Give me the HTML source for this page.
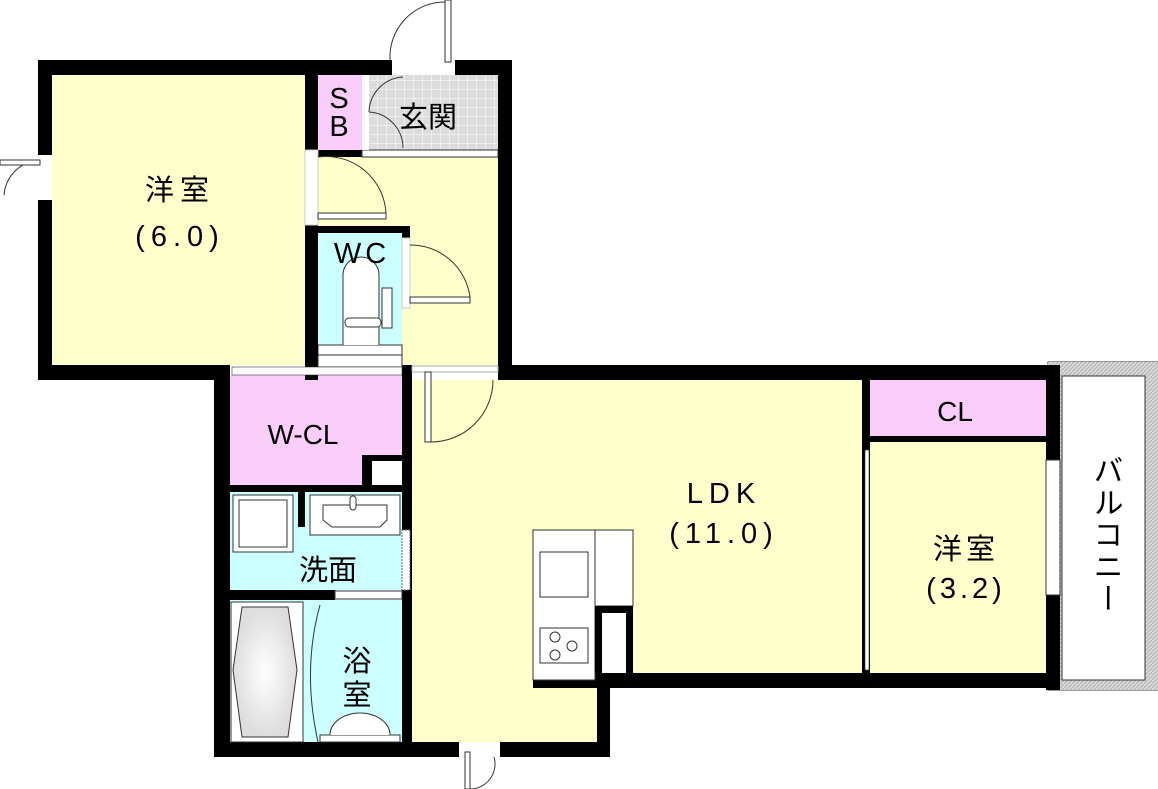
<!DOCTYPE html>
<html><head><meta charset="utf-8"><style>
html,body{margin:0;padding:0;background:#fff;}
svg{display:block}
text{font-family:"Liberation Sans","Noto Sans CJK JP",sans-serif;fill:#000}
</style></head><body>
<svg width="1158" height="789" viewBox="0 0 1158 789" xmlns="http://www.w3.org/2000/svg">
<defs>
<pattern id="grid" width="9" height="9" patternUnits="userSpaceOnUse"><rect width="9" height="9" fill="#dcdcdc"/><path d="M9 0V9M0 9H9" stroke="#fff" stroke-width="1"/></pattern>
<pattern id="hatch" width="4" height="4" patternUnits="userSpaceOnUse"><rect width="4" height="4" fill="#d8d8d8"/><path d="M0 4L4 0" stroke="#aaa" stroke-width="0.8"/></pattern>
<radialGradient id="tub"><stop offset="0" stop-color="#fff"/><stop offset="1" stop-color="#ddd"/></radialGradient>
</defs>
<rect x="1048" y="362" width="110" height="328" fill="#fff" stroke="#333"/>
<rect x="1048" y="362" width="110" height="328" fill="url(#hatch)"/>
<rect x="1062" y="376" width="83" height="304" fill="#fff" stroke="#333"/>
<rect x="52" y="75" width="253" height="290" fill="#ffffcc"/>
<rect x="318" y="150" width="180" height="230" fill="#ffffcc"/>
<rect x="318" y="75" width="44" height="75" fill="#fbcdfb"/>
<rect x="362" y="75" width="136" height="75" fill="url(#grid)"/>
<rect x="318" y="233" width="84" height="112" fill="#ccffff"/>
<rect x="318" y="345" width="84" height="22" fill="#fff" stroke="#333"/>
<rect x="230" y="375" width="172" height="110" fill="#fbcdfb"/>
<rect x="230" y="492" width="172" height="98" fill="#ccffff"/>
<rect x="230" y="600" width="172" height="142" fill="#ccffff"/>
<rect x="412" y="380" width="450" height="293" fill="#ffffcc"/>
<rect x="412" y="673" width="185" height="69" fill="#ffffcc"/>
<rect x="870" y="440" width="176" height="233" fill="#ffffcc"/>
<rect x="870" y="380" width="176" height="60" fill="#fbcdfb"/>
<g fill="#000">
<rect x="38" y="60" width="354" height="15"/>
<rect x="455" y="60" width="57" height="15"/>
<rect x="38" y="60" width="14" height="320"/>
<rect x="498" y="60" width="14" height="320"/>
<rect x="38" y="365" width="192" height="15"/>
<rect x="305" y="75" width="13" height="75"/>
<rect x="305" y="225" width="13" height="155"/>
<rect x="318" y="150" width="44" height="7"/>
<rect x="214" y="365" width="16" height="392"/>
<rect x="214" y="742" width="245" height="15"/>
<rect x="500" y="742" width="110" height="15"/>
<rect x="597" y="673" width="13" height="84"/>
<rect x="498" y="365" width="562" height="15"/>
<rect x="1046" y="365" width="14" height="325"/>
<rect x="533" y="673" width="527" height="15"/>
<rect x="402" y="365" width="10" height="377"/>
<rect x="318" y="226" width="92" height="7"/>
<rect x="402" y="226" width="8" height="12"/>
<rect x="230" y="485" width="172" height="7"/>
<rect x="230" y="590" width="105" height="10"/>
<rect x="362" y="455" width="10" height="30"/>
<rect x="362" y="455" width="40" height="6"/>
<rect x="298" y="492" width="7" height="35"/>
<rect x="862" y="380" width="8" height="293"/>
<rect x="870" y="436" width="176" height="6"/>
</g>
<rect x="318" y="355" width="84" height="12" fill="#fff" stroke="#333"/>
<rect x="232" y="367" width="170" height="8" fill="#fff" stroke="#333" stroke-width="0.6"/>
<rect x="335" y="591" width="67" height="8" fill="#fff" stroke="#333"/>
<rect x="372" y="461" width="30" height="24" fill="#fff"/>
<rect x="865" y="450" width="4" height="220" fill="#fff" stroke="#333" stroke-width="0.6"/>
<rect x="362" y="150" width="136" height="7" fill="#fff" stroke="#333"/>
<rect x="362" y="75" width="7" height="75" fill="#fff"/>
<rect x="392" y="60" width="63" height="15" fill="#fff"/>
<rect x="445" y="0" width="6" height="62" fill="#fff" stroke="#333"/>
<path d="M445 2 A55 55 0 0 0 390 60" fill="none" stroke="#333"/>
<path d="M369 112 A36 36 0 0 1 403 77 M369 112 A36 36 0 0 1 403 148" fill="none" stroke="#333"/>
<rect x="38" y="155" width="14" height="45" fill="#fff"/>
<path d="M40 160 A38 38 0 0 0 4 195" fill="none" stroke="#333"/>
<rect x="0" y="160" width="40" height="5" fill="#fff" stroke="#333"/>
<rect x="305" y="150" width="13" height="75" fill="#fff" stroke="#ccc"/>
<rect x="318" y="213" width="68" height="6" fill="#fff" stroke="#333"/>
<path d="M318 157 A60 60 0 0 1 386 213" fill="none" stroke="#333"/>
<rect x="402" y="238" width="8" height="70" fill="#fff" stroke="#ccc"/>
<rect x="410" y="297" width="60" height="6" fill="#fff" stroke="#333"/>
<path d="M410 245 A60 60 0 0 1 470 297" fill="none" stroke="#333"/>
<path d="M343 345 V275 A18 18 0 0 1 379 275 V345" fill="#fff" stroke="#333"/>
<rect x="382" y="288" width="10" height="40" fill="#fff" stroke="#333"/>
<rect x="345" y="318" width="36" height="9" rx="4" fill="#fff" stroke="#333"/>
<rect x="412" y="365" width="86" height="15" fill="#fff"/>
<rect x="412" y="366" width="86" height="6" fill="#fff" stroke="#aaa"/>
<rect x="425" y="372" width="6" height="70" fill="#fff" stroke="#333"/>
<path d="M431 442 A62 62 0 0 0 493 380" fill="none" stroke="#333"/>
<rect x="402" y="530" width="8" height="60" fill="#fff" stroke="#666" stroke-dasharray="2 1"/>
<rect x="233" y="495" width="60" height="57" fill="#fff" stroke="#333"/>
<rect x="239" y="500" width="48" height="47" fill="#fff" stroke="#333"/>
<rect x="310" y="495" width="90" height="40" fill="#fff" stroke="#333"/>
<path d="M323 505 H387 V520 L380 527 H332 L323 520 Z" fill="#fff" stroke="#333"/>
<rect x="350" y="496" width="6" height="14" rx="3" fill="#fff" stroke="#333"/>
<rect x="231" y="602" width="72" height="140" fill="#fff" stroke="#333"/>
<path d="M242 607 H288 L297 670 L288 737 H242 L233 670 Z" fill="url(#tub)" stroke="#333"/>
<path d="M320 605 Q302 670 318 742" fill="none" stroke="#333"/>
<rect x="320" y="735" width="80" height="7" fill="#fff" stroke="#333"/>
<path d="M330 735 A30 22 0 0 1 390 735" fill="#fff" stroke="#333"/>
<rect x="459" y="742" width="41" height="15" fill="#fff"/>
<rect x="465" y="752" width="5" height="37" fill="#fff" stroke="#333"/>
<path d="M470 789 A25 25 0 0 0 494 757" fill="none" stroke="#333"/>
<rect x="533" y="530" width="62" height="150" fill="#fff" stroke="#333"/>
<rect x="595" y="530" width="38" height="76" fill="#fff" stroke="#333"/>
<rect x="595" y="606" width="38" height="67" fill="#000"/>
<rect x="602" y="613" width="24" height="60" fill="#fff"/>
<rect x="540" y="552" width="48" height="45" fill="#fff" stroke="#333"/>
<rect x="540" y="628" width="48" height="35" fill="#fff" stroke="#333"/>
<g fill="none" stroke="#333"><circle cx="555" cy="637" r="5"/><circle cx="572" cy="646" r="5"/><circle cx="555" cy="655" r="5"/></g>
<rect x="1046" y="460" width="14" height="135" fill="#fff" stroke="#333"/>
<text x="180" y="200" font-size="29" text-anchor="middle" letter-spacing="6">洋室</text>
<text x="180" y="246" font-size="29" text-anchor="middle" letter-spacing="6">(6.0)</text>
<text x="339" y="108" font-size="29" text-anchor="middle">S</text>
<text x="339" y="136" font-size="29" text-anchor="middle">B</text>
<text x="428" y="127" font-size="29" text-anchor="middle">玄関</text>
<text x="362" y="263" font-size="29" text-anchor="middle" letter-spacing="4">WC</text>
<text x="303" y="444" font-size="28" text-anchor="middle">W-CL</text>
<text x="328" y="580" font-size="29" text-anchor="middle">洗面</text>
<text x="357" y="671" font-size="29" text-anchor="middle">浴</text>
<text x="357" y="705" font-size="29" text-anchor="middle">室</text>
<text x="724" y="503" font-size="29" text-anchor="middle" letter-spacing="6">LDK</text>
<text x="724" y="543" font-size="29" text-anchor="middle" letter-spacing="6">(11.0)</text>
<text x="955" y="421" font-size="28" text-anchor="middle">CL</text>
<text x="966" y="559" font-size="29" text-anchor="middle" letter-spacing="4">洋室</text>
<text x="966" y="598" font-size="29" text-anchor="middle" letter-spacing="4">(3.2)</text>
<text font-size="30" writing-mode="tb" x="1105" y="455" letter-spacing="2">バルコニー</text>
</svg>
</body></html>
